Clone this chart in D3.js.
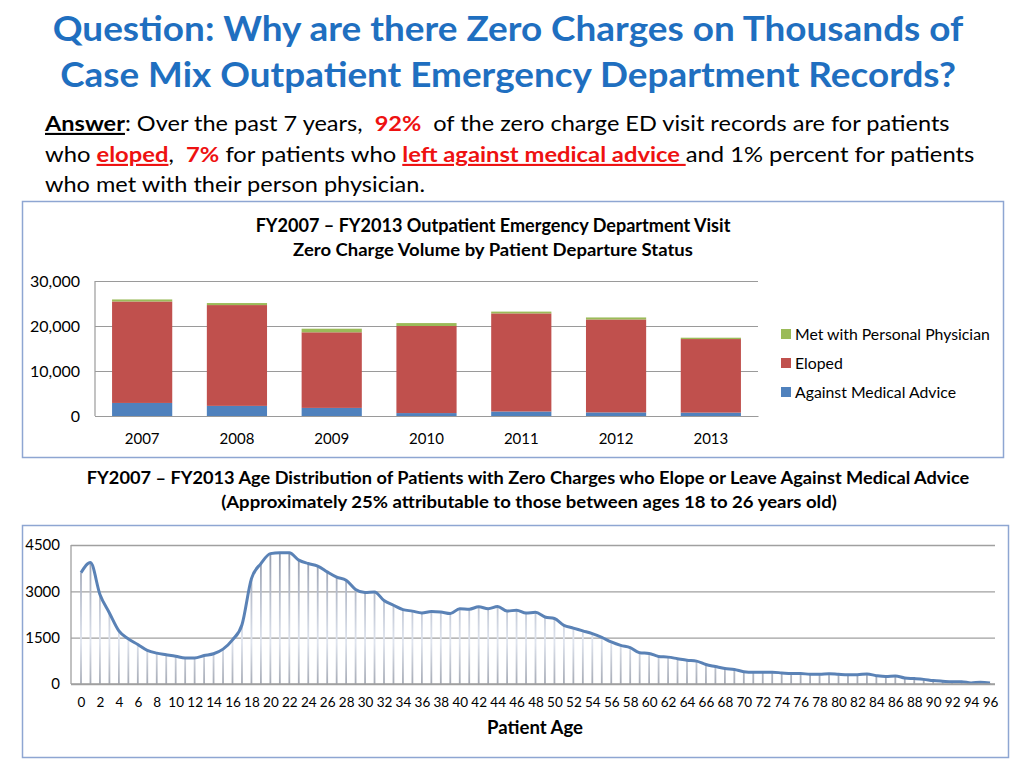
<!DOCTYPE html>
<html><head><meta charset="utf-8">
<script src="https://cdn.jsdelivr.net/npm/d3@7"></script>
<style>
html,body{margin:0;padding:0;background:#fff;}
svg{display:block;font-family:Lato,"Open Sans",sans-serif;}
text{white-space:pre;}
</style></head>
<body>
<svg id="c" width="1024" height="768"></svg>
<script>
// ---------- data ----------
const years = ["2007","2008","2009","2010","2011","2012","2013"];
const againstMedicalAdvice = [2900, 2250, 1800, 650, 1000, 800, 750];
const eloped = [22550, 22400, 16800, 19350, 21800, 20650, 16350];
const metWithPhysician = [450, 450, 800, 650, 400, 450, 300];
const barTicks = [0, 10000, 20000, 30000];
const seriesNames = ["Against Medical Advice", "Eloped", "Met with Personal Physician"];

const ages = d3.range(0, 97);
const patientCounts = [
  3600, 3930, 2900, 2300, 1720, 1460, 1280, 1090, 1000, 950,
  900, 840, 840, 920, 980, 1130, 1430, 1920, 3410, 3900,
  4220, 4250, 4250, 4010, 3900, 3820, 3630, 3460, 3360, 3060,
  2960, 2980, 2700, 2550, 2410, 2360, 2300, 2350, 2330, 2280,
  2440, 2420, 2500, 2440, 2510, 2360, 2390, 2300, 2320, 2170,
  2120, 1900, 1810, 1720, 1630, 1510, 1360, 1250, 1180, 1010,
  990, 890, 870, 820, 770, 740, 630, 565, 500, 470,
  400, 380, 380, 380, 360, 340, 340, 315, 315, 335,
  315, 300, 300, 325, 270, 240, 260, 195, 175, 150,
  110, 90, 75, 75, 35, 55, 35
];
const ageTicks = [0, 1500, 3000, 4500];

// ---------- helpers ----------
const svg = d3.select("#c");
// place text at (x,y) and squeeze it horizontally so it spans `target` px (Calibri-like narrow look)
function placeFit(sel, x, y, target) {
  sel.attr("x", 0).attr("y", 0);
  const w = sel.node().getComputedTextLength();
  sel.attr("transform", `translate(${x},${y}) scale(${target / w},1)`);
  return target / w;
}
const blue = "#1f6fc0", red = "#ee1111";

// ---------- headline ----------
const t1 = svg.append("text").attr("text-anchor", "middle")
  .attr("font-size", 35).attr("font-weight", "bold").attr("fill", blue)
  .text("Question: Why are there Zero Charges on Thousands of");
placeFit(t1, 508, 41, 911);
const t2 = svg.append("text").attr("text-anchor", "middle")
  .attr("font-size", 35).attr("font-weight", "bold").attr("fill", blue)
  .text("Case Mix Outpatient Emergency Department Records?");
placeFit(t2, 508, 87, 896);

function richLine(y, parts, target) {
  const t = svg.append("text").attr("font-size", 21).attr("fill", "#000");
  parts.forEach(p => {
    const s = t.append("tspan").text(p.t);
    if (p.b) s.attr("font-weight", "bold");
    if (p.c) s.attr("fill", p.c);
    if (p.u) s.style("text-decoration", "underline");
  });
  return placeFit(t, 45, y, target);
}
const s1 = richLine(131, [
  {t: "Answer", b: true, u: true},
  {t: ": Over the past 7 years,  "},
  {t: "92%", b: true, c: red},
  {t: "  of the zero charge ED visit records are for patients"}
], 905);
richLine(162, [
  {t: "who "},
  {t: "eloped", b: true, c: red, u: true},
  {t: ",  "},
  {t: "7%", b: true, c: red},
  {t: " for patients who "},
  {t: "left against medical advice ", b: true, c: red, u: true},
  {t: "and 1% percent for patients"}
], 930);
svg.append("text").attr("font-size", 21)
  .attr("transform", `translate(45,192) scale(${s1},1)`)
  .text("who met with their person physician.");

// ---------- top chart ----------
svg.append("rect").attr("x", 22.5).attr("y", 201.5).attr("width", 981).attr("height", 256)
  .attr("fill", "#fff").attr("stroke", "#8ea6d2").attr("stroke-width", 1.5);

const bt1 = svg.append("text").attr("text-anchor", "middle")
  .attr("font-size", 18).attr("font-weight", "bold").text("FY2007 \u2013 FY2013 Outpatient Emergency Department Visit");
placeFit(bt1, 493, 232, 475);
const bt2 = svg.append("text").attr("text-anchor", "middle")
  .attr("font-size", 18).attr("font-weight", "bold").text("Zero Charge Volume by Patient Departure Status");
placeFit(bt2, 493, 256, 400);

const bx = d3.scaleBand().domain(years).range([95, 758]).paddingInner(0.365).paddingOuter(0.18);
const by = d3.scaleLinear().domain([0, 30000]).range([416, 281]);

const gTop = svg.append("g");
gTop.append("g").attr("transform", "translate(95,0)")
  .call(d3.axisLeft(by).tickValues(barTicks).tickSize(-663).tickFormat(d3.format(",")).tickPadding(15))
  .call(g => g.select(".domain").remove())
  .call(g => g.selectAll(".tick line").attr("stroke", "#9a9a9a").attr("stroke-width", 1.2))
  .call(g => g.selectAll(".tick text").attr("font-size", 16).attr("fill", "#000").attr("font-family", "Lato"));
gTop.append("line").attr("x1", 95).attr("x2", 95).attr("y1", 281).attr("y2", 416).attr("stroke", "#9a9a9a").attr("stroke-width", 1.2);

const stackData = years.map((y, i) => ({year: y, a: againstMedicalAdvice[i], e: eloped[i], m: metWithPhysician[i]}));
const stack = d3.stack().keys(["a", "e", "m"])(stackData);
const colors = {a: "#4f81bd", e: "#c0504d", m: "#9bbb59"};
gTop.selectAll("g.s").data(stack).join("g").attr("fill", d => colors[d.key])
  .selectAll("rect").data(d => d).join("rect")
  .attr("x", d => bx(d.data.year)).attr("width", bx.bandwidth())
  .attr("y", d => by(d[1])).attr("height", d => by(d[0]) - by(d[1]));

gTop.append("g").attr("transform", "translate(0,416)")
  .call(d3.axisBottom(bx).tickSize(0).tickPadding(17))
  .call(g => g.select(".domain").attr("stroke", "#9a9a9a").attr("stroke-width", 1.2))
  .call(g => g.selectAll(".tick text").attr("font-size", 15).attr("fill", "#000").attr("font-family", "Lato"));

// legend
const legendKeys = ["m", "e", "a"];
const legendNames = {a: seriesNames[0], e: seriesNames[1], m: seriesNames[2]};
const lg = svg.append("g").selectAll("g").data(legendKeys).join("g")
  .attr("transform", (d, i) => `translate(781,${334 + i * 29})`);
lg.append("rect").attr("x", 0).attr("y", -5).attr("width", 10).attr("height", 10).attr("fill", d => colors[d]);
const lt = lg.append("text").attr("font-size", 16).text(d => legendNames[d]);
const lsx = placeFit(lt.filter((d, i) => i === 0), 14, 5.5, 195);
lt.attr("x", 0).attr("y", 0).attr("transform", `translate(14,5.5) scale(${lsx},1)`);

// ---------- middle caption ----------
const m1 = svg.append("text").attr("text-anchor", "middle")
  .attr("font-size", 17).attr("font-weight", "bold")
  .text("FY2007 \u2013 FY2013 Age Distribution of Patients with Zero Charges who Elope or Leave Against Medical Advice");
placeFit(m1, 528, 484, 883);
const m2 = svg.append("text").attr("text-anchor", "middle")
  .attr("font-size", 17).attr("font-weight", "bold")
  .text("(Approximately 25% attributable to those between ages 18 to 26 years old)");
placeFit(m2, 529, 508, 616);

// ---------- bottom chart ----------
svg.append("rect").attr("x", 22.5).attr("y", 525.5).attr("width", 986).attr("height", 232)
  .attr("fill", "#fff").attr("stroke", "#8ea6d2").attr("stroke-width", 1.5);

const ax = d3.scalePoint().domain(ages).range([81, 990]);
const ay = d3.scaleLinear().domain([0, 4500]).range([684, 545]);

const defs = svg.append("defs");
const grad = defs.append("linearGradient").attr("id", "dg").attr("gradientUnits", "userSpaceOnUse")
  .attr("x1", 0).attr("x2", 0).attr("y1", 545).attr("y2", 684);
grad.append("stop").attr("offset", "0%").attr("stop-color", "#8e96a8");
grad.append("stop").attr("offset", "70%").attr("stop-color", "#dfe4ee");
grad.append("stop").attr("offset", "100%").attr("stop-color", "#a6abb6");

const gB = svg.append("g");
gB.append("g").attr("transform", "translate(71,0)")
  .call(d3.axisLeft(ay).tickValues(ageTicks).tickSize(-924).tickFormat(d3.format("d")).tickPadding(11))
  .call(g => g.select(".domain").remove())
  .call(g => g.selectAll(".tick line").attr("stroke", "#a0a0a0").attr("stroke-width", 1.3))
  .call(g => g.selectAll(".tick text").attr("font-size", 15).attr("fill", "#000").attr("font-family", "Lato"));
gB.append("line").attr("x1", 71).attr("x2", 71).attr("y1", 545).attr("y2", 684).attr("stroke", "#a0a0a0").attr("stroke-width", 1.3);

gB.append("g").selectAll("line").data(ages).join("line")
  .attr("x1", d => ax(d)).attr("x2", d => ax(d))
  .attr("y1", (d, i) => ay(patientCounts[i])).attr("y2", ay(0))
  .attr("stroke", "url(#dg)").attr("stroke-width", 1.8);

gB.append("path").datum(patientCounts)
  .attr("d", d3.line().x((d, i) => ax(ages[i])).y(d => ay(d)).curve(d3.curveMonotoneX))
  .attr("fill", "none").attr("stroke", "#5a82b6").attr("stroke-width", 3).attr("stroke-linejoin", "round");

gB.append("g").attr("transform", "translate(0,684)")
  .call(d3.axisBottom(ax).tickValues(ages.filter(a => a % 2 === 0)).tickSize(0).tickPadding(13))
  .call(g => g.select(".domain").remove())
  .call(g => g.selectAll(".tick text").attr("font-size", 13.5).attr("fill", "#000").attr("font-family", "Lato"));
gB.append("line").attr("x1", 71).attr("x2", 995).attr("y1", 684).attr("y2", 684).attr("stroke", "#a0a0a0").attr("stroke-width", 1.3);

const xl = svg.append("text").attr("text-anchor", "middle")
  .attr("font-size", 18).attr("font-weight", "bold").text("Patient Age");
placeFit(xl, 535, 734, 96);
</script>
</body></html>
